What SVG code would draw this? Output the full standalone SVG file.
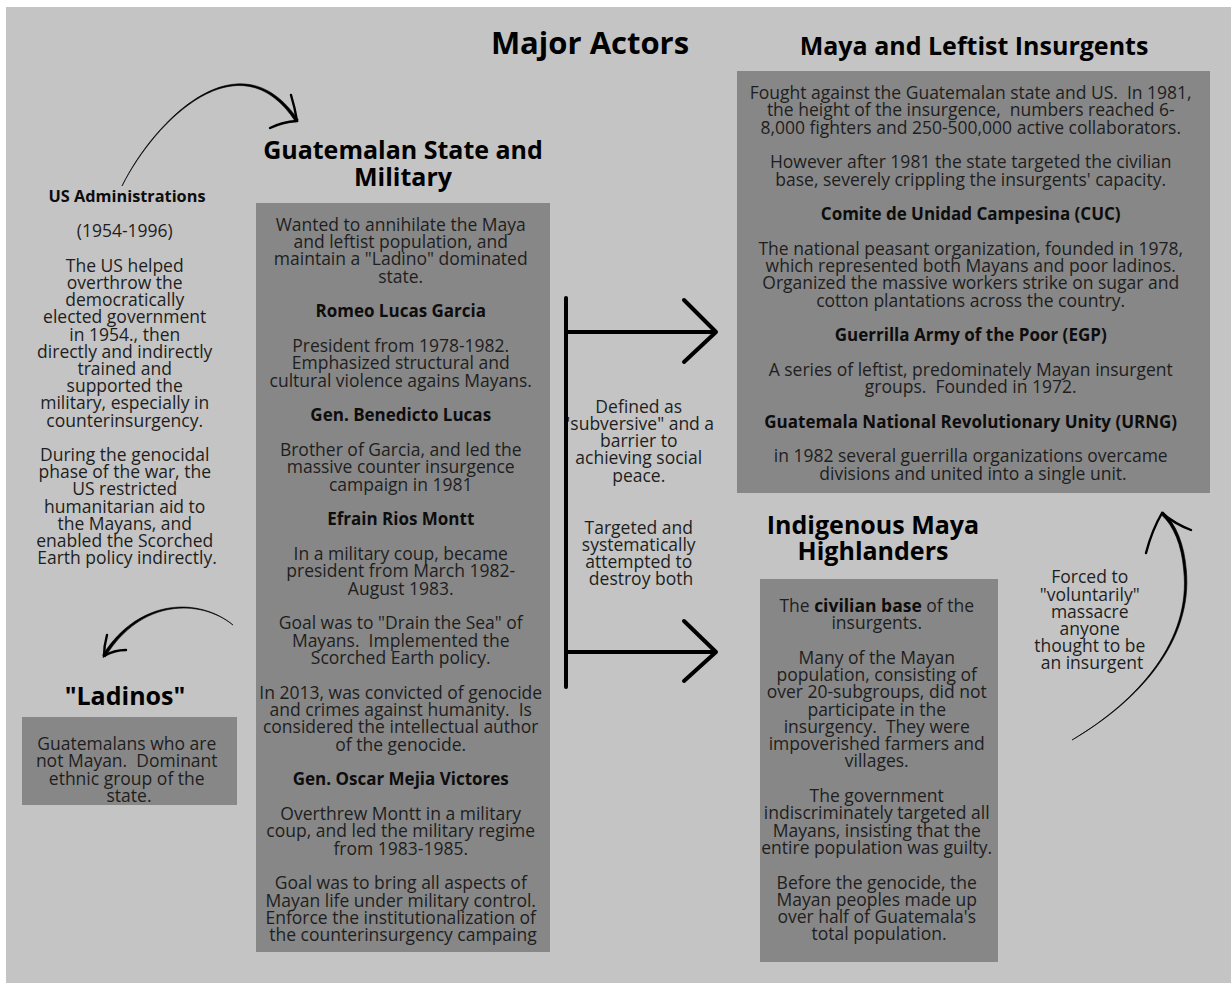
<svg xmlns="http://www.w3.org/2000/svg" width="1231" height="983" viewBox="0 0 1231 983">
<style>
.bg{fill:#c4c4c4}
.box{fill:#878787}
.t{font-family:"Open Sans","Liberation Sans",sans-serif;font-size:17.5px;fill:#1e1e1e;text-anchor:middle}
.b{font-weight:700;fill:#0d0d0d;font-size:17px}
.h{font-family:"Open Sans","Liberation Sans",sans-serif;font-weight:700;font-size:25px;fill:#000;text-anchor:middle}
.conn{fill:none;stroke:#000;stroke-width:4;stroke-linecap:round;stroke-linejoin:round}
.brush{fill:#000;stroke:#000;stroke-width:0.6;stroke-linejoin:round}
.barb{fill:none;stroke:#000;stroke-width:2.4;stroke-linecap:round}
</style>
<rect width="1231" height="983" fill="#fff"/>
<rect class="bg" x="6" y="7" width="1225" height="976"/>

<g id="title">
<text class="h" x="590" y="54" style="font-size:31px">Major Actors</text>
</g>

<g id="us-administrations">
<text class="t b" x="127" y="202" style="font-size:16.3px">US Administrations</text>
<text class="t">
<tspan x="127" y="237.3">(1954-1996)</tspan>
<tspan x="127" y="271.7">The US helped</tspan>
<tspan x="127" y="288.9">overthrow the</tspan>
<tspan x="127" y="306.1">democratically</tspan>
<tspan x="127" y="323.3">elected government</tspan>
<tspan x="127" y="340.5">in 1954., then</tspan>
<tspan x="127" y="357.7">directly and indirectly</tspan>
<tspan x="127" y="374.9">trained and</tspan>
<tspan x="127" y="392.1">supported the</tspan>
<tspan x="127" y="409.3">military, especially in</tspan>
<tspan x="127" y="426.5">counterinsurgency.</tspan>
<tspan x="127" y="460.9">During the genocidal</tspan>
<tspan x="127" y="478.1">phase of the war, the</tspan>
<tspan x="127" y="495.3">US restricted</tspan>
<tspan x="127" y="512.5">humanitarian aid to</tspan>
<tspan x="127" y="529.7">the Mayans, and</tspan>
<tspan x="127" y="546.9">enabled the Scorched</tspan>
<tspan x="127" y="564.1">Earth policy indirectly.</tspan>
</text>
</g>

<g id="guatemalan-state">
<text class="h" x="403" y="159">Guatemalan State and</text>
<text class="h" x="403" y="186">Military</text>
<rect class="box" x="256" y="203" width="294" height="749"/>
<text class="t">
<tspan x="403" y="231">Wanted to annihilate the Maya</tspan>
<tspan x="403" y="248.3">and leftist population, and</tspan>
<tspan x="403" y="265.4">maintain a "Ladino" dominated</tspan>
<tspan x="403" y="282.7">state.</tspan>
<tspan x="403" y="317.4" class="b">Romeo Lucas Garcia</tspan>
<tspan x="403" y="352">President from 1978-1982.</tspan>
<tspan x="403" y="369.3">Emphasized structural and</tspan>
<tspan x="403" y="386.7">cultural violence agains Mayans.</tspan>
<tspan x="403" y="421.3" class="b">Gen. Benedicto Lucas</tspan>
<tspan x="403" y="456">Brother of Garcia, and led the</tspan>
<tspan x="403" y="473.3">massive counter insurgence</tspan>
<tspan x="403" y="490.7">campaign in 1981</tspan>
<tspan x="403" y="525.3" class="b">Efrain Rios Montt</tspan>
<tspan x="403" y="560">In a military coup, became</tspan>
<tspan x="403" y="577.3">president from March 1982-</tspan>
<tspan x="403" y="594.6">August 1983.</tspan>
<tspan x="403" y="629.3">Goal was to "Drain the Sea" of</tspan>
<tspan x="403" y="646.6">Mayans.&#160; Implemented the</tspan>
<tspan x="403" y="664">Scorched Earth policy.</tspan>
<tspan x="403" y="698.6">In 2013, was convicted of genocide</tspan>
<tspan x="403" y="716">and crimes against humanity.&#160; Is</tspan>
<tspan x="403" y="733.3">considered the intellectual author</tspan>
<tspan x="403" y="750.6">of the genocide.</tspan>
<tspan x="403" y="785.3" class="b">Gen. Oscar Mejia Victores</tspan>
<tspan x="403" y="820">Overthrew Montt in a military</tspan>
<tspan x="403" y="837.3">coup, and led the military regime</tspan>
<tspan x="403" y="854.6">from 1983-1985.</tspan>
<tspan x="403" y="889.3">Goal was to bring all aspects of</tspan>
<tspan x="403" y="906.6">Mayan life under military control.</tspan>
<tspan x="403" y="924">Enforce the institutionalization of</tspan>
<tspan x="403" y="941.3">the counterinsurgency campaing</tspan>
</text>
</g>

<g id="insurgents">
<text class="h" x="974" y="55">Maya and Leftist Insurgents</text>
<rect class="box" x="737" y="71" width="473" height="422"/>
<text class="t">
<tspan x="973" y="99">Fought against the Guatemalan state and US.&#160; In 1981,</tspan>
<tspan x="973" y="116.3">the height of the insurgence,&#160; numbers reached 6-</tspan>
<tspan x="973" y="133.6">8,000 fighters and 250-500,000 active collaborators.</tspan>
<tspan x="973" y="168.2">However after 1981 the state targeted the civilian</tspan>
<tspan x="973" y="185.5">base, severely crippling the insurgents' capacity.</tspan>
<tspan x="973" y="220.1" class="b">Comite de Unidad Campesina (CUC)</tspan>
<tspan x="973" y="254.7">The national peasant organization, founded in 1978,</tspan>
<tspan x="973" y="272">which represented both Mayans and poor ladinos.</tspan>
<tspan x="973" y="289.3">Organized the massive workers strike on sugar and</tspan>
<tspan x="973" y="306.6">cotton plantations across the country.</tspan>
<tspan x="973" y="341.2" class="b">Guerrilla Army of the Poor (EGP)</tspan>
<tspan x="973" y="375.8">A series of leftist, predominately Mayan insurgent</tspan>
<tspan x="973" y="393.1">groups.&#160; Founded in 1972.</tspan>
<tspan x="973" y="427.7" class="b">Guatemala National Revolutionary Unity (URNG)</tspan>
<tspan x="973" y="462.3">in 1982 several guerrilla organizations overcame</tspan>
<tspan x="973" y="479.6">divisions and united into a single unit.</tspan>
</text>
</g>

<g id="highlanders">
<text class="h" x="873" y="534">Indigenous Maya</text>
<text class="h" x="873" y="560">Highlanders</text>
<rect class="box" x="760" y="579" width="238" height="383"/>
<text class="t">
<tspan x="879" y="611.7">The <tspan class="b" style="font-size:17.5px">civilian base</tspan> of the</tspan>
<tspan x="879" y="629">insurgents.</tspan>
<tspan x="879" y="663.6">Many of the Mayan</tspan>
<tspan x="879" y="680.9">population, consisting of</tspan>
<tspan x="879" y="698.2">over 20-subgroups, did not</tspan>
<tspan x="879" y="715.5">participate in the</tspan>
<tspan x="879" y="732.8">insurgency.&#160; They were</tspan>
<tspan x="879" y="750.1">impoverished farmers and</tspan>
<tspan x="879" y="767.4">villages.</tspan>
<tspan x="879" y="802">The government</tspan>
<tspan x="879" y="819.3">indiscriminately targeted all</tspan>
<tspan x="879" y="836.6">Mayans, insisting that the</tspan>
<tspan x="879" y="853.9">entire population was guilty.</tspan>
<tspan x="879" y="888.5">Before the genocide, the</tspan>
<tspan x="879" y="905.8">Mayan peoples made up</tspan>
<tspan x="879" y="923.1">over half of Guatemala's</tspan>
<tspan x="879" y="940.4">total population.</tspan>
</text>
</g>

<g id="ladinos">
<text class="h" x="125" y="705">"Ladinos"</text>
<rect class="box" x="22" y="717" width="215" height="88"/>
<text class="t">
<tspan x="129" y="750">Guatemalans who are</tspan>
<tspan x="129" y="767.3">not Mayan.&#160; Dominant</tspan>
<tspan x="129" y="784.6">ethnic group of the</tspan>
<tspan x="129" y="802">state.</tspan>
</text>
</g>

<g id="label-targeted">
<text class="t">
<tspan x="641" y="412.7">Defined as</tspan>
<tspan x="641" y="429.9">"subversive" and a</tspan>
<tspan x="641" y="447.1">barrier to</tspan>
<tspan x="641" y="464.3">achieving social</tspan>
<tspan x="641" y="481.5">peace.</tspan>
<tspan x="641" y="534">Targeted and</tspan>
<tspan x="641" y="551">systematically</tspan>
<tspan x="641" y="568">attempted to</tspan>
<tspan x="641" y="585">destroy both</tspan>
</text>
</g>

<g id="label-forced">
<text class="t">
<tspan x="1092" y="583.3">Forced to</tspan>
<tspan x="1092" y="600.5">"voluntarily"</tspan>
<tspan x="1092" y="617.7">massacre</tspan>
<tspan x="1092" y="634.9">anyone</tspan>
<tspan x="1092" y="652.1">thought to be</tspan>
<tspan x="1092" y="669.3">an insurgent</tspan>
</text>
</g>

<g id="connectors">
<path class="conn" d="M566,298 L566,687"/>
<path class="conn" d="M566,332 L716,332 M684,300 L716,332 L684,362"/>
<path class="conn" d="M566,652 L716,652 M684,621 L716,652 L684,681"/>
<path class="brush" d="M122,186 C155.4,120.3 240,36.1 295.7,121.9 L298.3,120.1 C240,33.9 154.6,119.7 122,186 Z"/>
<path class="barb" d="M291,95 Q295,108 297,121 Q282,122 270,128"/>
<path class="brush" d="M233,625 C200.1,597.5 139.4,597.1 102.6,655.2 L105.4,656.8 C140.6,598.9 199.9,598.5 233,625 Z"/>
<path class="barb" d="M107,635 Q104,646 104,656 Q114,650 126,650"/>
<path class="brush" d="M1072,740 C1140.3,700.3 1192.9,640.3 1186.3,569.9 C1184.4,544.9 1176.3,524.2 1163.1,511.8 L1160.9,514.2 C1173.8,525.8 1181.7,545.1 1183.7,570.1 C1191.2,639.7 1139.7,699.7 1072,740 Z"/>
<path class="barb" d="M1146,553 Q1152,530 1162,513 Q1175,524 1191,530"/>
</g>
</svg>
